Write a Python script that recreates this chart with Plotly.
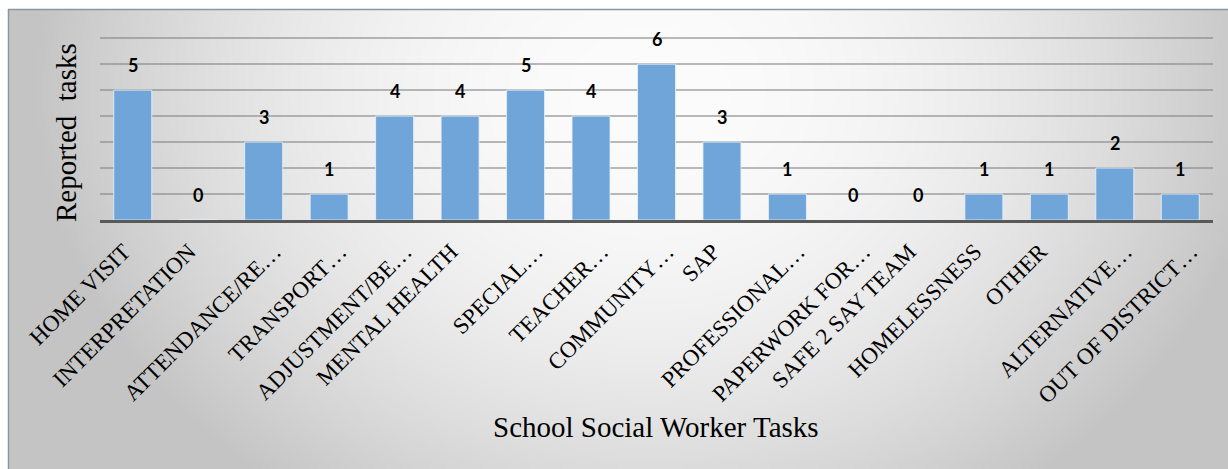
import base64
import struct
import zlib

import numpy as np
import plotly.graph_objects as go

# ---------------- data ----------------
categories = [
    "HOME VISIT", "INTERPRETATION", "ATTENDANCE/RE…", "TRANSPORT…",
    "ADJUSTMENT/BE…", "MENTAL HEALTH", "SPECIAL…", "TEACHER…",
    "COMMUNITY…", "SAP", "PROFESSIONAL…", "PAPERWORK FOR…",
    "SAFE 2 SAY TEAM", "HOMELESSNESS", "OTHER", "ALTERNATIVE…",
    "OUT OF DISTRICT…",
]
values = [5, 0, 3, 1, 4, 4, 5, 4, 6, 3, 1, 0, 0, 1, 1, 2, 1]
x_title = "School Social Worker Tasks"
y_title = "Reported  tasks"

# ---------------- geometry (pixels) ----------------
W, H = 1228, 469
L, R, T, B = 100, 15, 33, 249
PW, PH = W - L - R, H - T - B
ELLIPSIS_OFFSET = 0.3  # truncated labels sit a little further right (in category units)


def px_to_paper_x(px):
    return (px - L) / PW


def px_to_paper_y(py):
    return (H - B - py) / PH


# ---------------- background gradient image ----------------
def make_png(arr):
    h, w, _ = arr.shape
    raw = b"".join(b"\x00" + arr[i].tobytes() for i in range(h))

    def chunk(tag, data):
        c = struct.pack(">I", len(data)) + tag + data
        return c + struct.pack(">I", zlib.crc32(tag + data) & 0xFFFFFFFF)

    sig = b"\x89PNG\r\n\x1a\n"
    ihdr = struct.pack(">IIBBBBB", w, h, 8, 2, 0, 0, 0)
    return sig + chunk(b"IHDR", ihdr) + chunk(b"IDAT", zlib.compress(raw, 9)) + chunk(b"IEND", b"")


bx0, by0 = 8, 9
bw, bh = W - bx0, H - by0
scale = 4
gw, gh = bw // scale, bh // scale
xs = (np.arange(gw) + 0.5) * scale + bx0
ys = (np.arange(gh) + 0.5) * scale + by0
XX, YY = np.meshgrid(xs, ys)
r = np.sqrt(((XX - 650) / 620.0) ** 2 + ((YY - 90) / 500.0) ** 2)
r = np.clip(r, 0, 1.0)
bright = 252 - 56 * r ** 2
img = np.repeat(bright[:, :, None], 3, axis=2).astype(np.uint8)
src = "data:image/png;base64," + base64.b64encode(make_png(img)).decode()

# ---------------- figure ----------------
fig = go.Figure()
fig.add_trace(
    go.Bar(
        x=categories,
        y=values,
        marker=dict(color="#6fa5d8", line=dict(color="rgba(235,242,250,0.8)", width=1)),
        hoverinfo="x+y",
    )
)

annotations = []
for c, v in zip(categories, values):
    annotations.append(
        dict(
            x=c, y=v, xref="x", yref="y", text="<b>%d</b>" % v, showarrow=False,
            yshift=25, yanchor="middle",
            font=dict(family="Lato, Liberation Sans, sans-serif", size=18, color="#000000"),
        )
    )

annotations.append(
    dict(
        x=px_to_paper_x(656), y=px_to_paper_y(427), xref="paper", yref="paper",
        text=x_title, showarrow=False, xanchor="center", yanchor="middle",
        font=dict(family="Liberation Serif, Times New Roman, serif", size=29, color="#000000"),
    )
)
annotations.append(
    dict(
        x=px_to_paper_x(66), y=px_to_paper_y(133), xref="paper", yref="paper",
        text=y_title, showarrow=False, xanchor="center", yanchor="middle", textangle=-90,
        font=dict(family="Liberation Serif, Times New Roman, serif", size=29, color="#000000"),
    )
)

shapes = [
    dict(type="line", xref="paper", yref="paper",
         x0=px_to_paper_x(bx0), x1=px_to_paper_x(W), y0=px_to_paper_y(by0 + 0.5), y1=px_to_paper_y(by0 + 0.5),
         line=dict(color="#8d96a0", width=1.5), layer="above"),
    dict(type="line", xref="paper", yref="paper",
         x0=px_to_paper_x(bx0 + 0.5), x1=px_to_paper_x(bx0 + 0.5), y0=px_to_paper_y(by0), y1=px_to_paper_y(H),
         line=dict(color="#8d96a0", width=1.5), layer="above"),
]

tick_positions = [i + (ELLIPSIS_OFFSET if c.endswith("…") else 0.0) for i, c in enumerate(categories)]

fig.update_layout(
    width=W,
    height=H,
    margin=dict(l=L, r=R, t=T, b=B, pad=0),
    paper_bgcolor="#ffffff",
    plot_bgcolor="rgba(0,0,0,0)",
    showlegend=False,
    bargap=0.42,
    annotations=annotations,
    shapes=shapes,
    images=[
        dict(
            source=src, xref="paper", yref="paper",
            x=px_to_paper_x(bx0), y=px_to_paper_y(by0),
            sizex=bw / PW, sizey=bh / PH,
            xanchor="left", yanchor="top", sizing="stretch", layer="below",
        )
    ],
    xaxis=dict(
        tickmode="array", tickvals=tick_positions, ticktext=categories,
        tickangle=-45,
        tickfont=dict(family="Liberation Serif, Times New Roman, serif", size=23, color="#000000"),
        showline=True, linecolor="#595959", linewidth=3,
        ticks="", showgrid=False, automargin=False,
        ticklabelshift=-9, ticklabelstandoff=6,
        range=[-0.5, len(categories) - 0.5],
    ),
    yaxis=dict(
        range=[0, 7.2], dtick=1, showticklabels=False, ticks="",
        showgrid=True, gridcolor="rgba(130,130,130,0.55)", gridwidth=1.5,
        zeroline=False, showline=False, automargin=False,
    ),
)

fig.write_html("out.html")
